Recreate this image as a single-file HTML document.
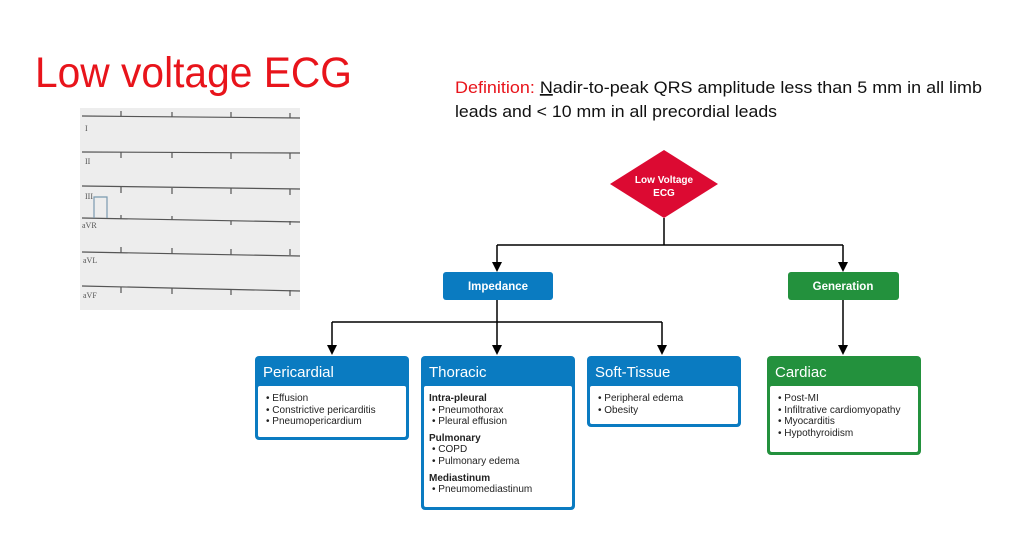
<!DOCTYPE html>
<html><head><meta charset="utf-8"><style>
html,body{margin:0;padding:0;background:#fff;}
svg{display:block;font-family:"Liberation Sans",Arial,sans-serif;}
</style></head><body>
<svg width="1024" height="556" viewBox="0 0 1024 556" xmlns="http://www.w3.org/2000/svg">
<text x="35" y="87" font-size="43" fill="#e8141b" textLength="317" lengthAdjust="spacingAndGlyphs">Low voltage ECG</text>
<text x="455" y="93" font-size="17" fill="#111" textLength="527" lengthAdjust="spacingAndGlyphs"><tspan fill="#e8141b">Definition: </tspan><tspan text-decoration="underline">N</tspan>adir-to-peak QRS amplitude less than 5 mm in all limb</text>
<text x="455" y="117" font-size="17" fill="#111" textLength="322" lengthAdjust="spacingAndGlyphs">leads and &lt; 10 mm in all precordial leads</text>
<!-- ECG -->
<rect x="80" y="108" width="220" height="202" fill="#ededed"/>
<g stroke="#555" stroke-width="1.2" fill="none">
<path d="M82,116 L300,118"/><path d="M82,152 L300,153"/><path d="M82,186 L300,189"/><path d="M82,218 L300,222"/><path d="M82,252 L300,256"/><path d="M82,286 L300,291"/>
<path d="M121,116 v-5 M172,117 v-5 M231,117 v-5 M290,118 v-5"/>
<path d="M121,152 v6 M172,152 v6 M231,153 v6 M290,153 v6"/>
<path d="M121,187 v6 M172,188 v6 M231,188 v6 M290,189 v6"/>
<path d="M121,219 v-4 M172,220 v-4 M231,221 v4 M290,221 v4"/>
<path d="M121,253 v-6 M172,254 v-6 M231,255 v-6 M290,255 v-6"/>
<path d="M121,287 v6 M172,288 v6 M231,289 v6 M290,290 v6"/>
<path d="M94,218 V197 H107 V218" stroke="#7a9ab0"/>
</g>
<g font-size="8" fill="#555" font-family="Liberation Serif,serif"><text x="85" y="131">I</text><text x="85" y="164">II</text><text x="85" y="199">III</text><text x="82" y="228">aVR</text><text x="83" y="263">aVL</text><text x="83" y="298">aVF</text></g>
<!-- connectors -->
<g stroke="#000" stroke-width="1.5" fill="none">
<path d="M664,218 V245 M497,245 H843"/>
<path d="M497,245 V263"/><path d="M843,245 V263"/>
<path d="M497,300 V322 M332,322 H662"/>
<path d="M332,322 V346"/><path d="M497,322 V346"/><path d="M662,322 V346"/>
<path d="M843,300 V346"/>
</g>
<g fill="#000">
<polygon points="492,262 502,262 497,272"/><polygon points="838,262 848,262 843,272"/>
<polygon points="327,345 337,345 332,355"/><polygon points="492,345 502,345 497,355"/><polygon points="657,345 667,345 662,355"/><polygon points="838,345 848,345 843,355"/>
</g>
<polygon points="664,150 718,184 664,218 610,184" fill="#dc0a32"/>
<text x="664" y="183" font-size="10" font-weight="bold" fill="#fff" text-anchor="middle">Low Voltage</text>
<text x="664" y="196" font-size="10" font-weight="bold" fill="#fff" text-anchor="middle">ECG</text>
<rect x="443" y="272" width="110" height="28" rx="3" fill="#0a7bc1"/>
<text x="498" y="290" font-size="11.5" font-weight="bold" fill="#fff" text-anchor="middle">Impedance</text>
<rect x="788" y="272" width="111" height="28" rx="3" fill="#23913d"/>
<text x="843" y="290" font-size="11.5" font-weight="bold" fill="#fff" text-anchor="middle">Generation</text>
<!-- boxes -->
<g>
<rect x="255" y="356" width="154" height="84" rx="4" fill="#0a7bc1"/><rect x="258" y="386" width="148" height="51" rx="2" fill="#fff"/>
<text x="263" y="377" font-size="15" fill="#fff">Pericardial</text>
<g font-size="10" fill="#222"><text x="266" y="401">• Effusion</text><text x="266" y="413">• Constrictive pericarditis</text><text x="266" y="424">• Pneumopericardium</text></g>
<rect x="421" y="356" width="154" height="154" rx="4" fill="#0a7bc1"/><rect x="424" y="386" width="148" height="121" rx="2" fill="#fff"/>
<text x="429" y="377" font-size="15" fill="#fff">Thoracic</text>
<g font-size="10" fill="#222"><text x="429" y="401" font-weight="bold">Intra-pleural</text><text x="432" y="413">• Pneumothorax</text><text x="432" y="424">• Pleural effusion</text>
<text x="429" y="441" font-weight="bold">Pulmonary</text><text x="432" y="452">• COPD</text><text x="432" y="464">• Pulmonary edema</text>
<text x="429" y="481" font-weight="bold">Mediastinum</text><text x="432" y="492">• Pneumomediastinum</text></g>
<rect x="587" y="356" width="154" height="71" rx="4" fill="#0a7bc1"/><rect x="590" y="386" width="148" height="38" rx="2" fill="#fff"/>
<text x="595" y="377" font-size="15" fill="#fff">Soft-Tissue</text>
<g font-size="10" fill="#222"><text x="598" y="401">• Peripheral edema</text><text x="598" y="413">• Obesity</text></g>
<rect x="767" y="356" width="154" height="99" rx="4" fill="#23913d"/><rect x="770" y="386" width="148" height="66" rx="2" fill="#fff"/>
<text x="775" y="377" font-size="15" fill="#fff">Cardiac</text>
<g font-size="10" fill="#222"><text x="778" y="401">• Post-MI</text><text x="778" y="413">• Infiltrative cardiomyopathy</text><text x="778" y="424">• Myocarditis</text><text x="778" y="436">• Hypothyroidism</text></g>
</g>
</svg>
</body></html>
